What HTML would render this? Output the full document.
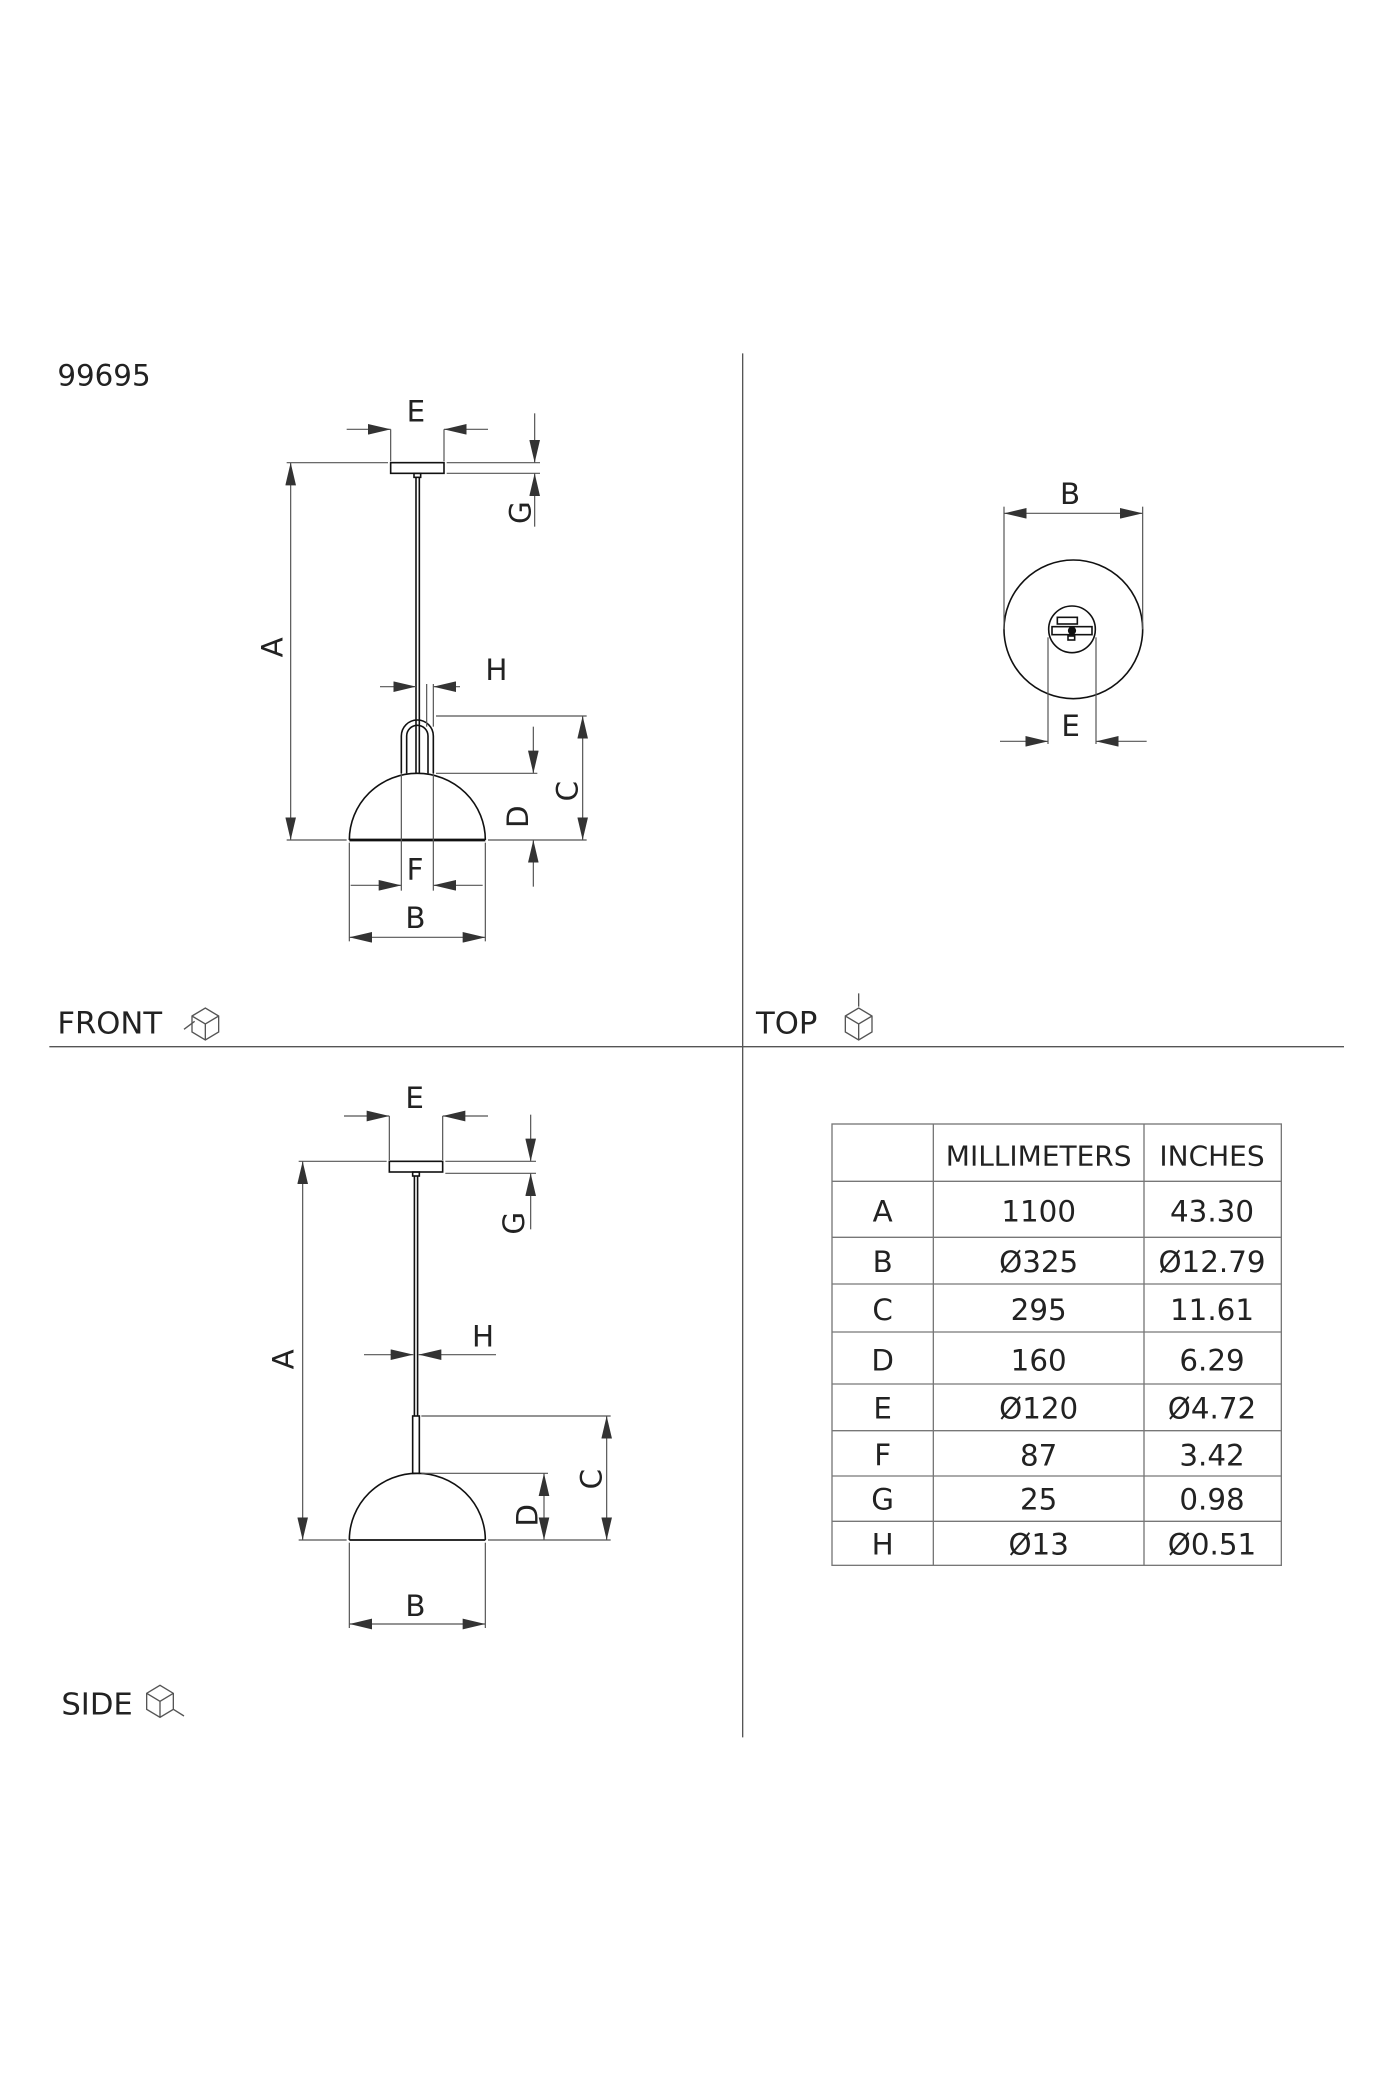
<!DOCTYPE html>
<html><head><meta charset="utf-8"><style>
html,body{margin:0;padding:0;background:#fff}
svg{display:block}
text{font-family:"DejaVu Sans","Liberation Sans",sans-serif;fill:#222}
</style></head><body>
<svg width="1400" height="2100" viewBox="0 0 1050 1575" xmlns="http://www.w3.org/2000/svg">
<defs>
<marker id="ar" viewBox="0 0 10 10" refX="10" refY="5" markerWidth="17" markerHeight="8" markerUnits="userSpaceOnUse" orient="auto-start-reverse" preserveAspectRatio="none"><path d="M0,0 L10,5 L0,10 z" fill="#333"/></marker>
</defs>
<rect width="1050" height="1575" fill="#fff"/>
<g stroke="#555" stroke-width="1" fill="none">
<line x1="557" y1="265" x2="557" y2="1303"/>
<line x1="37" y1="785" x2="1008" y2="785"/>
</g>
<text x="43" y="289" font-size="22">99695</text>
<text x="43" y="775" font-size="23">FRONT</text>
<text x="567" y="775" font-size="23">TOP</text>
<text x="46" y="1286" font-size="23">SIDE</text>
<g stroke="#555" stroke-width="1" fill="none">
<path d="M144,762 l10,-6 l10,6 v12 l-10,6 l-10,-6 z M144,762 l10,6 l10,-6 M154,768 v12"/>
<path d="M634,762 l10,-6 l10,6 v12 l-10,6 l-10,-6 z M634,762 l10,6 l10,-6 M644,768 v12 M644,745 v10"/>
<path d="M110,1270 l10,-6 l10,6 v12 l-10,6 l-10,-6 z M110,1270 l10,6 l10,-6 M120,1276 v12 M130,1282 l8,5"/>
<path d="M138,772 l8,-6"/>
</g>

<!-- FRONT VIEW -->
<g stroke="#111" stroke-width="1.2" fill="none">
<rect x="293" y="347" width="40" height="8"/>
<rect x="310.5" y="355" width="5" height="3"/>
<line x1="312" y1="358" x2="312" y2="580"/>
<line x1="314.5" y1="358" x2="314.5" y2="580"/>
<path d="M301,580 V552 A12,12 0 0 1 325,552 V580"/>
<path d="M305,580 V552 A8,8 0 0 1 321,552 V580"/>
<path d="M262,630 A51,50 0 0 1 364,630"/>
<line x1="262" y1="630" x2="364" y2="630" stroke-width="2"/>
</g>
<g stroke="#555" stroke-width="0.9" fill="none">
<line x1="293" y1="322" x2="293" y2="346"/><line x1="333" y1="322" x2="333" y2="346"/>
<line x1="260" y1="322" x2="293" y2="322" marker-end="url(#ar)"/>
<line x1="366" y1="322" x2="333" y2="322" marker-end="url(#ar)"/>
<line x1="335" y1="347" x2="405" y2="347"/><line x1="335" y1="355" x2="405" y2="355"/>
<line x1="401" y1="310" x2="401" y2="347" marker-end="url(#ar)"/>
<line x1="401" y1="395" x2="401" y2="355" marker-end="url(#ar)"/>
<line x1="215" y1="347" x2="291" y2="347"/><line x1="215" y1="630" x2="260" y2="630"/>
<line x1="218" y1="347" x2="218" y2="630" marker-start="url(#ar)" marker-end="url(#ar)"/>
<line x1="320" y1="513" x2="320" y2="545"/><line x1="325" y1="513" x2="325" y2="545"/>
<line x1="285" y1="515" x2="312" y2="515" marker-end="url(#ar)"/>
<line x1="345" y1="515" x2="325" y2="515" marker-end="url(#ar)"/>
<line x1="327" y1="537" x2="440" y2="537"/><line x1="366" y1="630" x2="440" y2="630"/>
<line x1="437" y1="537" x2="437" y2="630" marker-start="url(#ar)" marker-end="url(#ar)"/>
<line x1="327" y1="580" x2="403" y2="580"/>
<line x1="400" y1="545" x2="400" y2="580" marker-end="url(#ar)"/>
<line x1="400" y1="665" x2="400" y2="630" marker-end="url(#ar)"/>
<line x1="301" y1="580" x2="301" y2="668"/><line x1="325" y1="580" x2="325" y2="668"/>
<line x1="263" y1="664" x2="301" y2="664" marker-end="url(#ar)"/>
<line x1="362" y1="664" x2="325" y2="664" marker-end="url(#ar)"/>
<line x1="262" y1="632" x2="262" y2="706"/><line x1="364" y1="632" x2="364" y2="706"/>
<line x1="262" y1="703" x2="364" y2="703" marker-start="url(#ar)" marker-end="url(#ar)"/>
</g>
<g font-size="22">
<text x="305" y="316">E</text>
<text x="364" y="510">H</text>
<text x="305" y="660">F</text>
<text x="304" y="696">B</text>
<text transform="translate(212,493) rotate(-90)">A</text>
<text transform="translate(398,393) rotate(-90)">G</text>
<text transform="translate(433,601) rotate(-90)">C</text>
<text transform="translate(396,621) rotate(-90)">D</text>
</g>

<!-- TOP VIEW -->
<g stroke="#111" stroke-width="1.2" fill="none">
<circle cx="805" cy="472" r="52"/>
<circle cx="804" cy="472" r="17.5"/>
<rect x="793" y="463" width="15" height="5"/>
<rect x="789" y="470" width="30" height="6"/>
<circle cx="804" cy="473" r="2.5" fill="#111"/>
<rect x="801" y="477" width="5" height="3"/>
</g>
<g stroke="#555" stroke-width="0.9" fill="none">
<line x1="753" y1="380" x2="753" y2="472"/><line x1="857" y1="380" x2="857" y2="472"/>
<line x1="753" y1="385" x2="857" y2="385" marker-start="url(#ar)" marker-end="url(#ar)"/>
<line x1="786" y1="478" x2="786" y2="558"/><line x1="822" y1="478" x2="822" y2="558"/>
<line x1="750" y1="556" x2="786" y2="556" marker-end="url(#ar)"/>
<line x1="860" y1="556" x2="822" y2="556" marker-end="url(#ar)"/>
</g>
<g font-size="22">
<text x="795" y="378">B</text>
<text x="796" y="552">E</text>
</g>

<!-- SIDE VIEW -->
<g stroke="#111" stroke-width="1.2" fill="none">
<rect x="292" y="871" width="40" height="8"/>
<rect x="309.5" y="879" width="5" height="3"/>
<line x1="310.8" y1="882" x2="310.8" y2="1062"/>
<line x1="313.2" y1="882" x2="313.2" y2="1062"/>
<rect x="309.5" y="1062" width="5" height="43"/>
<path d="M262,1155 A51,50 0 0 1 364,1155"/>
<line x1="262" y1="1155" x2="364" y2="1155" stroke-width="1.4"/>
</g>
<g stroke="#555" stroke-width="0.9" fill="none">
<line x1="292" y1="837" x2="292" y2="870"/><line x1="332" y1="837" x2="332" y2="870"/>
<line x1="258" y1="837" x2="292" y2="837" marker-end="url(#ar)"/>
<line x1="366" y1="837" x2="332" y2="837" marker-end="url(#ar)"/>
<line x1="334" y1="871" x2="402" y2="871"/><line x1="334" y1="880" x2="402" y2="880"/>
<line x1="398" y1="836" x2="398" y2="871" marker-end="url(#ar)"/>
<line x1="398" y1="922" x2="398" y2="880" marker-end="url(#ar)"/>
<line x1="224" y1="871" x2="290" y2="871"/><line x1="224" y1="1155" x2="260" y2="1155"/>
<line x1="227" y1="871" x2="227" y2="1155" marker-start="url(#ar)" marker-end="url(#ar)"/>
<line x1="273" y1="1016" x2="310" y2="1016" marker-end="url(#ar)"/>
<line x1="372" y1="1016" x2="314" y2="1016" marker-end="url(#ar)"/>
<line x1="316" y1="1062" x2="458" y2="1062"/><line x1="366" y1="1155" x2="458" y2="1155"/>
<line x1="455" y1="1062" x2="455" y2="1155" marker-start="url(#ar)" marker-end="url(#ar)"/>
<line x1="316" y1="1105" x2="411" y2="1105"/>
<line x1="408" y1="1105" x2="408" y2="1155" marker-start="url(#ar)" marker-end="url(#ar)"/>
<line x1="262" y1="1157" x2="262" y2="1221"/><line x1="364" y1="1157" x2="364" y2="1221"/>
<line x1="262" y1="1218" x2="364" y2="1218" marker-start="url(#ar)" marker-end="url(#ar)"/>
</g>
<g font-size="22">
<text x="304" y="831">E</text>
<text x="354" y="1010">H</text>
<text x="304" y="1212">B</text>
<text transform="translate(220,1027) rotate(-90)">A</text>
<text transform="translate(393,926) rotate(-90)">G</text>
<text transform="translate(451,1117) rotate(-90)">C</text>
<text transform="translate(403,1145) rotate(-90)">D</text>
</g>

<!-- TABLE -->
<g stroke="#777" stroke-width="1" fill="none">
<rect x="624" y="843" width="337" height="331"/>
<line x1="700" y1="843" x2="700" y2="1174"/>
<line x1="858" y1="843" x2="858" y2="1174"/>
<line x1="624" y1="886" x2="961" y2="886"/>
<line x1="624" y1="928" x2="961" y2="928"/>
<line x1="624" y1="963" x2="961" y2="963"/>
<line x1="624" y1="999" x2="961" y2="999"/>
<line x1="624" y1="1038" x2="961" y2="1038"/>
<line x1="624" y1="1073" x2="961" y2="1073"/>
<line x1="624" y1="1107" x2="961" y2="1107"/>
<line x1="624" y1="1141" x2="961" y2="1141"/>
</g>
<g font-size="22" text-anchor="middle">
<text x="779" y="874" font-size="21">MILLIMETERS</text>
<text x="909" y="874" font-size="21">INCHES</text>
<text x="662" y="916">A</text><text x="779" y="916">1100</text><text x="909" y="916">43.30</text>
<text x="662" y="954">B</text><text x="779" y="954">Ø325</text><text x="909" y="954">Ø12.79</text>
<text x="662" y="990">C</text><text x="779" y="990">295</text><text x="909" y="990">11.61</text>
<text x="662" y="1028">D</text><text x="779" y="1028">160</text><text x="909" y="1028">6.29</text>
<text x="662" y="1064">E</text><text x="779" y="1064">Ø120</text><text x="909" y="1064">Ø4.72</text>
<text x="662" y="1099">F</text><text x="779" y="1099">87</text><text x="909" y="1099">3.42</text>
<text x="662" y="1132">G</text><text x="779" y="1132">25</text><text x="909" y="1132">0.98</text>
<text x="662" y="1166">H</text><text x="779" y="1166">Ø13</text><text x="909" y="1166">Ø0.51</text>
</g>
</svg>
</body></html>
